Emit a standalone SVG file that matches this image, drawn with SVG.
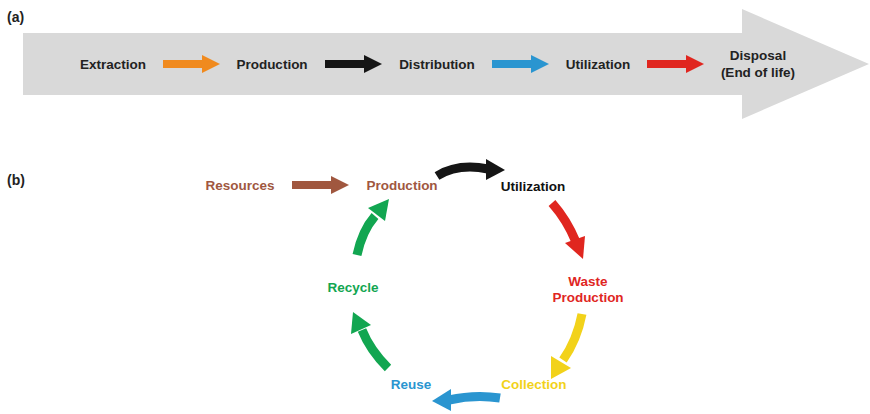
<svg xmlns="http://www.w3.org/2000/svg" width="870" height="414" viewBox="0 0 870 414">
<style>
text{font-family:"Liberation Sans",Arial,sans-serif;font-weight:bold;font-size:13.5px;text-anchor:middle}
.dk{fill:#222}
.br{fill:#a0573f}
.rd{fill:#e0261f}
.yl{fill:#f2d21a}
.bl{fill:#2a95d0}
.gr{fill:#12a651}
.sh{fill:none;stroke-width:9}
</style>
<rect width="870" height="414" fill="#fff"/>
<text x="7" y="22" style="text-anchor:start;font-size:14px" fill="#222">(a)</text>
<text x="7" y="185" style="text-anchor:start;font-size:14px" fill="#222">(b)</text>
<g id="bigarrow">
<polygon points="23,33 742,33 742,9 869,64 742,119 742,95 23,95" fill="#d9d9d9"/>
</g>
<g id="extraction"><text x="113" y="69" class="dk">Extraction</text></g>
<g id="production-a"><text x="272" y="69" class="dk">Production</text></g>
<g id="distribution"><text x="437" y="69" class="dk">Distribution</text></g>
<g id="utilization-a"><text x="598" y="69" class="dk">Utilization</text></g>
<g id="disposal"><text x="758" y="60" class="dk">Disposal</text><text x="758" y="77" class="dk">(End of life)</text></g>
<g id="resources"><text x="240" y="190" class="br">Resources</text></g>
<g id="production-b"><text x="402" y="190" class="br">Production</text></g>
<g id="utilization-b"><text x="533" y="191" fill="#111">Utilization</text></g>
<g id="waste"><text x="588" y="286" class="rd">Waste</text><text x="588" y="302" class="rd">Production</text></g>
<g id="collection"><text x="534" y="389" class="yl">Collection</text></g>
<g id="reuse"><text x="411" y="389" class="bl">Reuse</text></g>
<g id="recycle"><text x="353" y="292" class="gr">Recycle</text></g>
<g id="connectors">
<g fill="#f08a1e"><rect x="163" y="60" width="40" height="8"/><polygon points="202,55 220,64 202,73"/></g>
<g fill="#151515"><rect x="325" y="60" width="40" height="8"/><polygon points="364,55 382,64 364,73"/></g>
<g fill="#2a95d0"><rect x="492" y="60" width="40" height="8"/><polygon points="531,55 549,64 531,73"/></g>
<g fill="#e0261f"><rect x="647" y="60" width="40" height="8"/><polygon points="686,55 704,64 686,73"/></g>
<g fill="#a0573f"><rect x="292" y="181" width="40" height="8"/><polygon points="331,176 349,185 331,194"/></g>
<g><path class="sh" stroke="#151515" d="M437,176 Q458,163 488,169"/><polygon fill="#151515" points="486,159 505,170 486,180"/></g>
<g><path class="sh" stroke="#e0261f" d="M552,203 Q567,220 576,242"/><polygon fill="#e0261f" points="565,243 585,236 583,259"/></g>
<g><path class="sh" stroke="#f2d21a" d="M582,314 Q577,340 563,360"/><polygon fill="#f2d21a" points="571,368 551,356 551,379"/></g>
<g><path class="sh" stroke="#2a95d0" d="M500,398 Q475,394 449,400"/><polygon fill="#2a95d0" points="451,389 451,411 432,401"/></g>
<g><path class="sh" stroke="#12a651" d="M388,368 Q370,350 362,330"/><polygon fill="#12a651" points="371,325 351,334 353,312"/></g>
<g><path class="sh" stroke="#12a651" d="M357,255 Q362,231 375,216"/><polygon fill="#12a651" points="368,208 385,221 389,199"/></g>
</g>
</svg>
